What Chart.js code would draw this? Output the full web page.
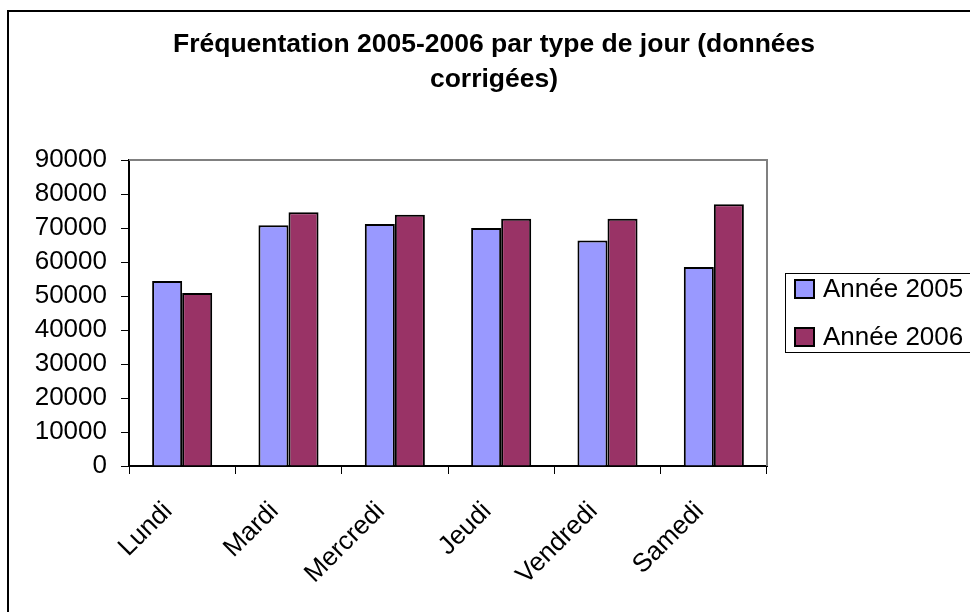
<!DOCTYPE html>
<html>
<head>
<meta charset="utf-8">
<script src="https://cdn.jsdelivr.net/npm/chart.js@4/dist/chart.umd.min.js"></script>
<style>
  html, body { margin: 0; padding: 0; background: #fff; }
  #wrap { width: 970px; height: 612px; }
</style>
</head>
<body>
<div id="wrap"><canvas id="freqChart" width="970" height="612"></canvas></div>
<script>
// --- data ---
const days      = ['Lundi', 'Mardi', 'Mercredi', 'Jeudi', 'Vendredi', 'Samedi']
const year2005  = [54400, 70800, 71200, 70000, 66300, 58500]
const year2006  = [50900, 74600, 73900, 72700, 72700, 77000]
const seriesNames = ['Année 2005', 'Année 2006']
const titleLines  = ['Fréquentation 2005-2006 par type de jour (données', 'corrigées)']

const FONT = '"Liberation Sans", Arial, sans-serif'

// frame, title, plot border and legend (Excel-like)
const decorPlugin = {
  id: 'decor',
  beforeDraw(chart) {
    const ctx = chart.ctx
    ctx.save()
    ctx.fillStyle = '#fff'
    ctx.fillRect(0, 0, chart.width, chart.height)
    // outer chart frame
    ctx.strokeStyle = '#000'
    ctx.lineWidth = 2
    ctx.strokeRect(8, 11, 1000, 700)
    ctx.restore()
  },
  afterDraw(chart) {
    const ctx = chart.ctx
    const a = chart.chartArea
    ctx.save()
    // plot area border (grey top + right)
    ctx.strokeStyle = '#808080'
    ctx.lineWidth = 2
    ctx.beginPath()
    ctx.moveTo(a.left, a.top)
    ctx.lineTo(a.right, a.top)
    ctx.lineTo(a.right, a.bottom)
    ctx.stroke()

    // title
    ctx.fillStyle = '#000'
    ctx.font = 'bold 26.5px ' + FONT
    ctx.textAlign = 'center'
    ctx.textBaseline = 'middle'
    ctx.fillText(titleLines[0], 494, 45)
    ctx.fillText(titleLines[1], 494, 80)

    // legend box
    ctx.strokeStyle = '#000'
    ctx.lineWidth = 1
    ctx.strokeRect(785.5, 273.5, 200, 79)
    ctx.font = '26px ' + FONT
    ctx.textAlign = 'left'
    chart.data.datasets.forEach((ds, i) => {
      const cy = 289 + i * 48
      ctx.fillStyle = ds.backgroundColor
      ctx.fillRect(795, cy - 9, 19, 18)
      ctx.lineWidth = 2
      ctx.strokeRect(795, cy - 9, 19, 18)
      ctx.fillStyle = '#000'
      ctx.fillText(ds.label, 823, cy + 1)
    })
    ctx.restore()
  }
}

new Chart(document.getElementById('freqChart'), {
  type: 'bar',
  data: {
    labels: days,
    datasets: [
      { label: seriesNames[0], data: year2005, backgroundColor: '#9999ff', borderColor: '#000', borderWidth: 2 },
      { label: seriesNames[1], data: year2006, backgroundColor: '#993366', borderColor: '#000', borderWidth: 2 },
    ]
  },
  options: {
    responsive: false,
    animation: false,
    devicePixelRatio: 1,
    layout: { padding: { left: 0, top: 160, right: 203, bottom: 0 } },
    datasets: { bar: { categoryPercentage: 0.565, barPercentage: 1 } },
    scales: {
      x: {
        grid: { drawOnChartArea: false, color: '#000', tickLength: 8, offset: true },
        border: { color: '#000', width: 2 },
        ticks: { color: '#000', font: { family: FONT, size: 26 }, minRotation: 45, maxRotation: 45, padding: 22, labelOffset: -14 },
        afterFit: s => { s.height = 146 },
      },
      y: {
        min: 0, max: 90000,
        grid: { drawOnChartArea: false, color: '#000', tickLength: 8 },
        border: { color: '#000', width: 2 },
        ticks: { stepSize: 10000, autoSkip: false, color: '#000', font: { family: FONT, size: 26 }, padding: 14, callback: v => String(v) },
        afterFit: s => { s.width = 129 },
      },
    },
    plugins: {
      legend: { display: false },
      title: { display: false },
      tooltip: { enabled: false },
    },
  },
  plugins: [decorPlugin],
})
</script>
</body>
</html>
